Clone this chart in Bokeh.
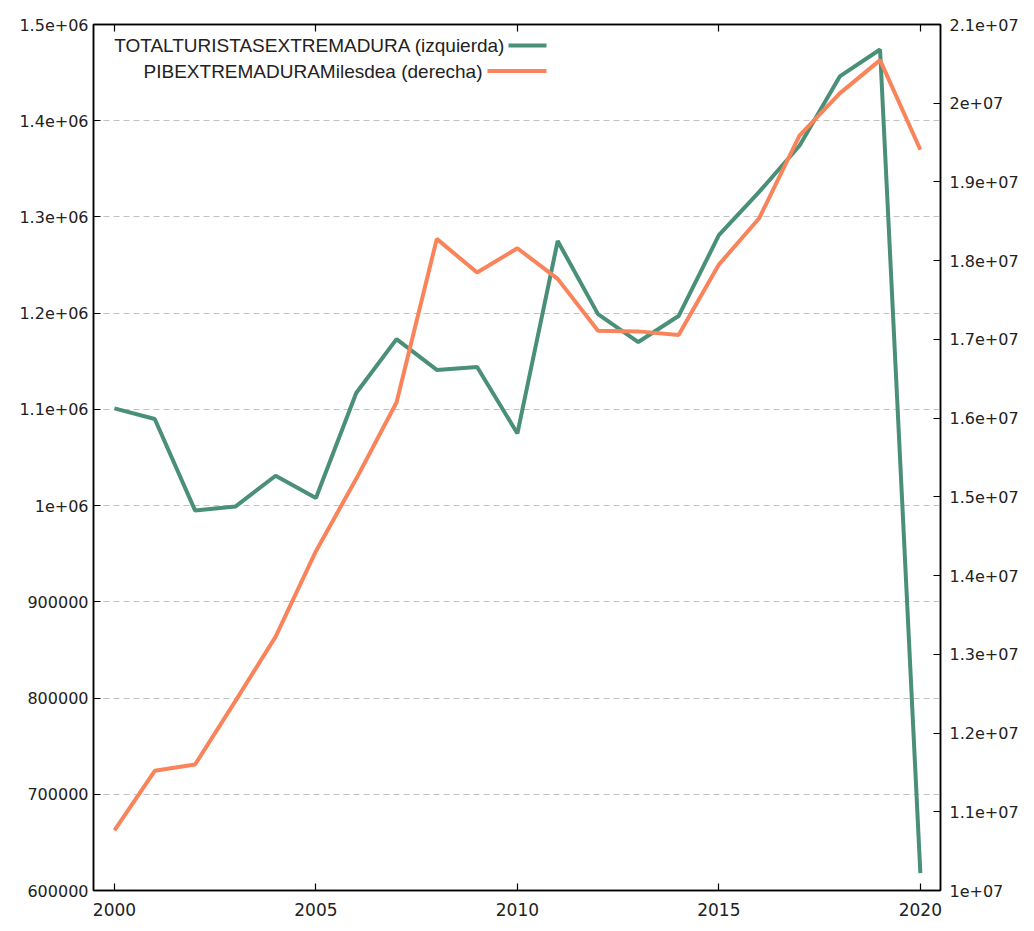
from bokeh.plotting import figure
from bokeh.models import LinearAxis, Range1d, FixedTicker, Label, BoxAnnotation
from bokeh.embed import file_html
from bokeh.resources import INLINE

# ---- data ----
years = list(range(2000, 2021))
turistas = [1101000, 1090000, 995000, 999000, 1031000, 1008000, 1117000,
            1173000, 1141000, 1144000, 1075000, 1275000, 1199000, 1170000,
            1197000, 1281000, 1326000, 1374000, 1446000, 1474000, 618000]
pib = [10765000, 11520000, 11600000, 12406000, 13224000, 14310000, 15229000,
       16199000, 18277000, 17849000, 18158000, 17769000, 17111000, 17102000,
       17056000, 17950000, 18539000, 19587000, 20125000, 20548000, 19409000]

series_names = ["TOTALTURISTASEXTREMADURA (izquierda)",
                "PIBEXTREMADURAMilesdea (derecha)"]

x_ticks = [2000, 2005, 2010, 2015, 2020]
x_tick_labels = ["2000", "2005", "2010", "2015", "2020"]
left_ticks = [600000, 700000, 800000, 900000, 1000000, 1100000, 1200000,
              1300000, 1400000, 1500000]
left_tick_labels = ["600000", "700000", "800000", "900000", "1e+06",
                    "1.1e+06", "1.2e+06", "1.3e+06", "1.4e+06", "1.5e+06"]
right_ticks = [10000000, 11000000, 12000000, 13000000, 14000000, 15000000,
               16000000, 17000000, 18000000, 19000000, 20000000, 21000000]
right_tick_labels = ["1e+07", "1.1e+07", "1.2e+07", "1.3e+07", "1.4e+07",
                     "1.5e+07", "1.6e+07", "1.7e+07", "1.8e+07", "1.9e+07",
                     "2e+07", "2.1e+07"]

GREEN = "#4a8f77"
ORANGE = "#f9845c"
TXT = "#222222"
NUM_FONT = "DejaVu Sans"

FRAME_H = 866
p = figure(width=1030, height=929,
           x_range=Range1d(1999.48, 2020.5),
           y_range=Range1d(600000, 1500000),
           output_backend="svg", toolbar_location=None,
           min_border_left=93, min_border_right=90,
           min_border_top=24, min_border_bottom=39)
p.extra_y_ranges = {"y2": Range1d(10000000, 21000000)}

p.background_fill_color = "white"
p.border_fill_color = "white"
p.outline_line_color = "black"
p.outline_line_width = 1.5

# grid
p.xgrid.visible = False
p.ygrid.ticker = FixedTicker(ticks=left_ticks)
p.ygrid.grid_line_color = "#c2c2c2"
p.ygrid.grid_line_dash = "6 4"
p.ygrid.grid_line_width = 1

def style_axis(ax, size="16px"):
    ax.axis_line_color = "black"
    ax.axis_line_width = 1.5
    ax.major_tick_line_color = "black"
    ax.major_tick_line_width = 1.2
    ax.major_tick_in = 7
    ax.major_tick_out = 0
    ax.minor_tick_line_color = None
    ax.major_label_text_font = NUM_FONT
    ax.major_label_text_font_size = size
    ax.major_label_text_color = TXT
    ax.major_label_standoff = 5

# bottom x axis
xa = p.xaxis[0]
xa.ticker = FixedTicker(ticks=x_ticks)
xa.major_label_overrides = {t: l for t, l in zip(x_ticks, x_tick_labels)}
style_axis(xa, "17px")
xa.major_label_standoff = 12

# left y axis
ya = p.yaxis[0]
ya.ticker = FixedTicker(ticks=left_ticks)
ya.major_label_overrides = {t: l for t, l in zip(left_ticks, left_tick_labels)}
style_axis(ya)

# right y axis
ra = LinearAxis(y_range_name="y2", ticker=FixedTicker(ticks=right_ticks),
                major_label_overrides={t: l for t, l in zip(right_ticks, right_tick_labels)})
style_axis(ra)
ra.major_label_standoff = 9
p.add_layout(ra, "right")

# top mirrored x ticks (no labels)
ta = LinearAxis(ticker=FixedTicker(ticks=x_ticks))
style_axis(ta)
ta.major_label_text_color = None
p.add_layout(ta, "above")

# series
r1 = p.line(years, turistas, line_color=GREEN, line_width=4)
r2 = p.line(years, pib, line_color=ORANGE, line_width=4, y_range_name="y2")

# key (gnuplot style: text right-aligned, sample to its right)
key_rows = [(series_names[0], GREEN, 412, 415, 453, 21.0),
            (series_names[1], ORANGE, 389, 394, 453, 46.5)]
for txt, col, tx, s0, s1, dy in key_rows:
    yc = FRAME_H - dy
    p.add_layout(Label(x=tx, y=yc, x_units="screen", y_units="screen",
                       text=txt, text_align="right", text_baseline="middle",
                       text_font="Liberation Sans", text_font_size="19px",
                       text_color=TXT))
    p.add_layout(BoxAnnotation(left=s0, right=s1, bottom=yc - 2, top=yc + 2,
                               left_units="screen", right_units="screen",
                               bottom_units="screen", top_units="screen",
                               fill_color=col, fill_alpha=1.0, line_color=None))

open("out.html", "w").write(file_html(p, INLINE))
